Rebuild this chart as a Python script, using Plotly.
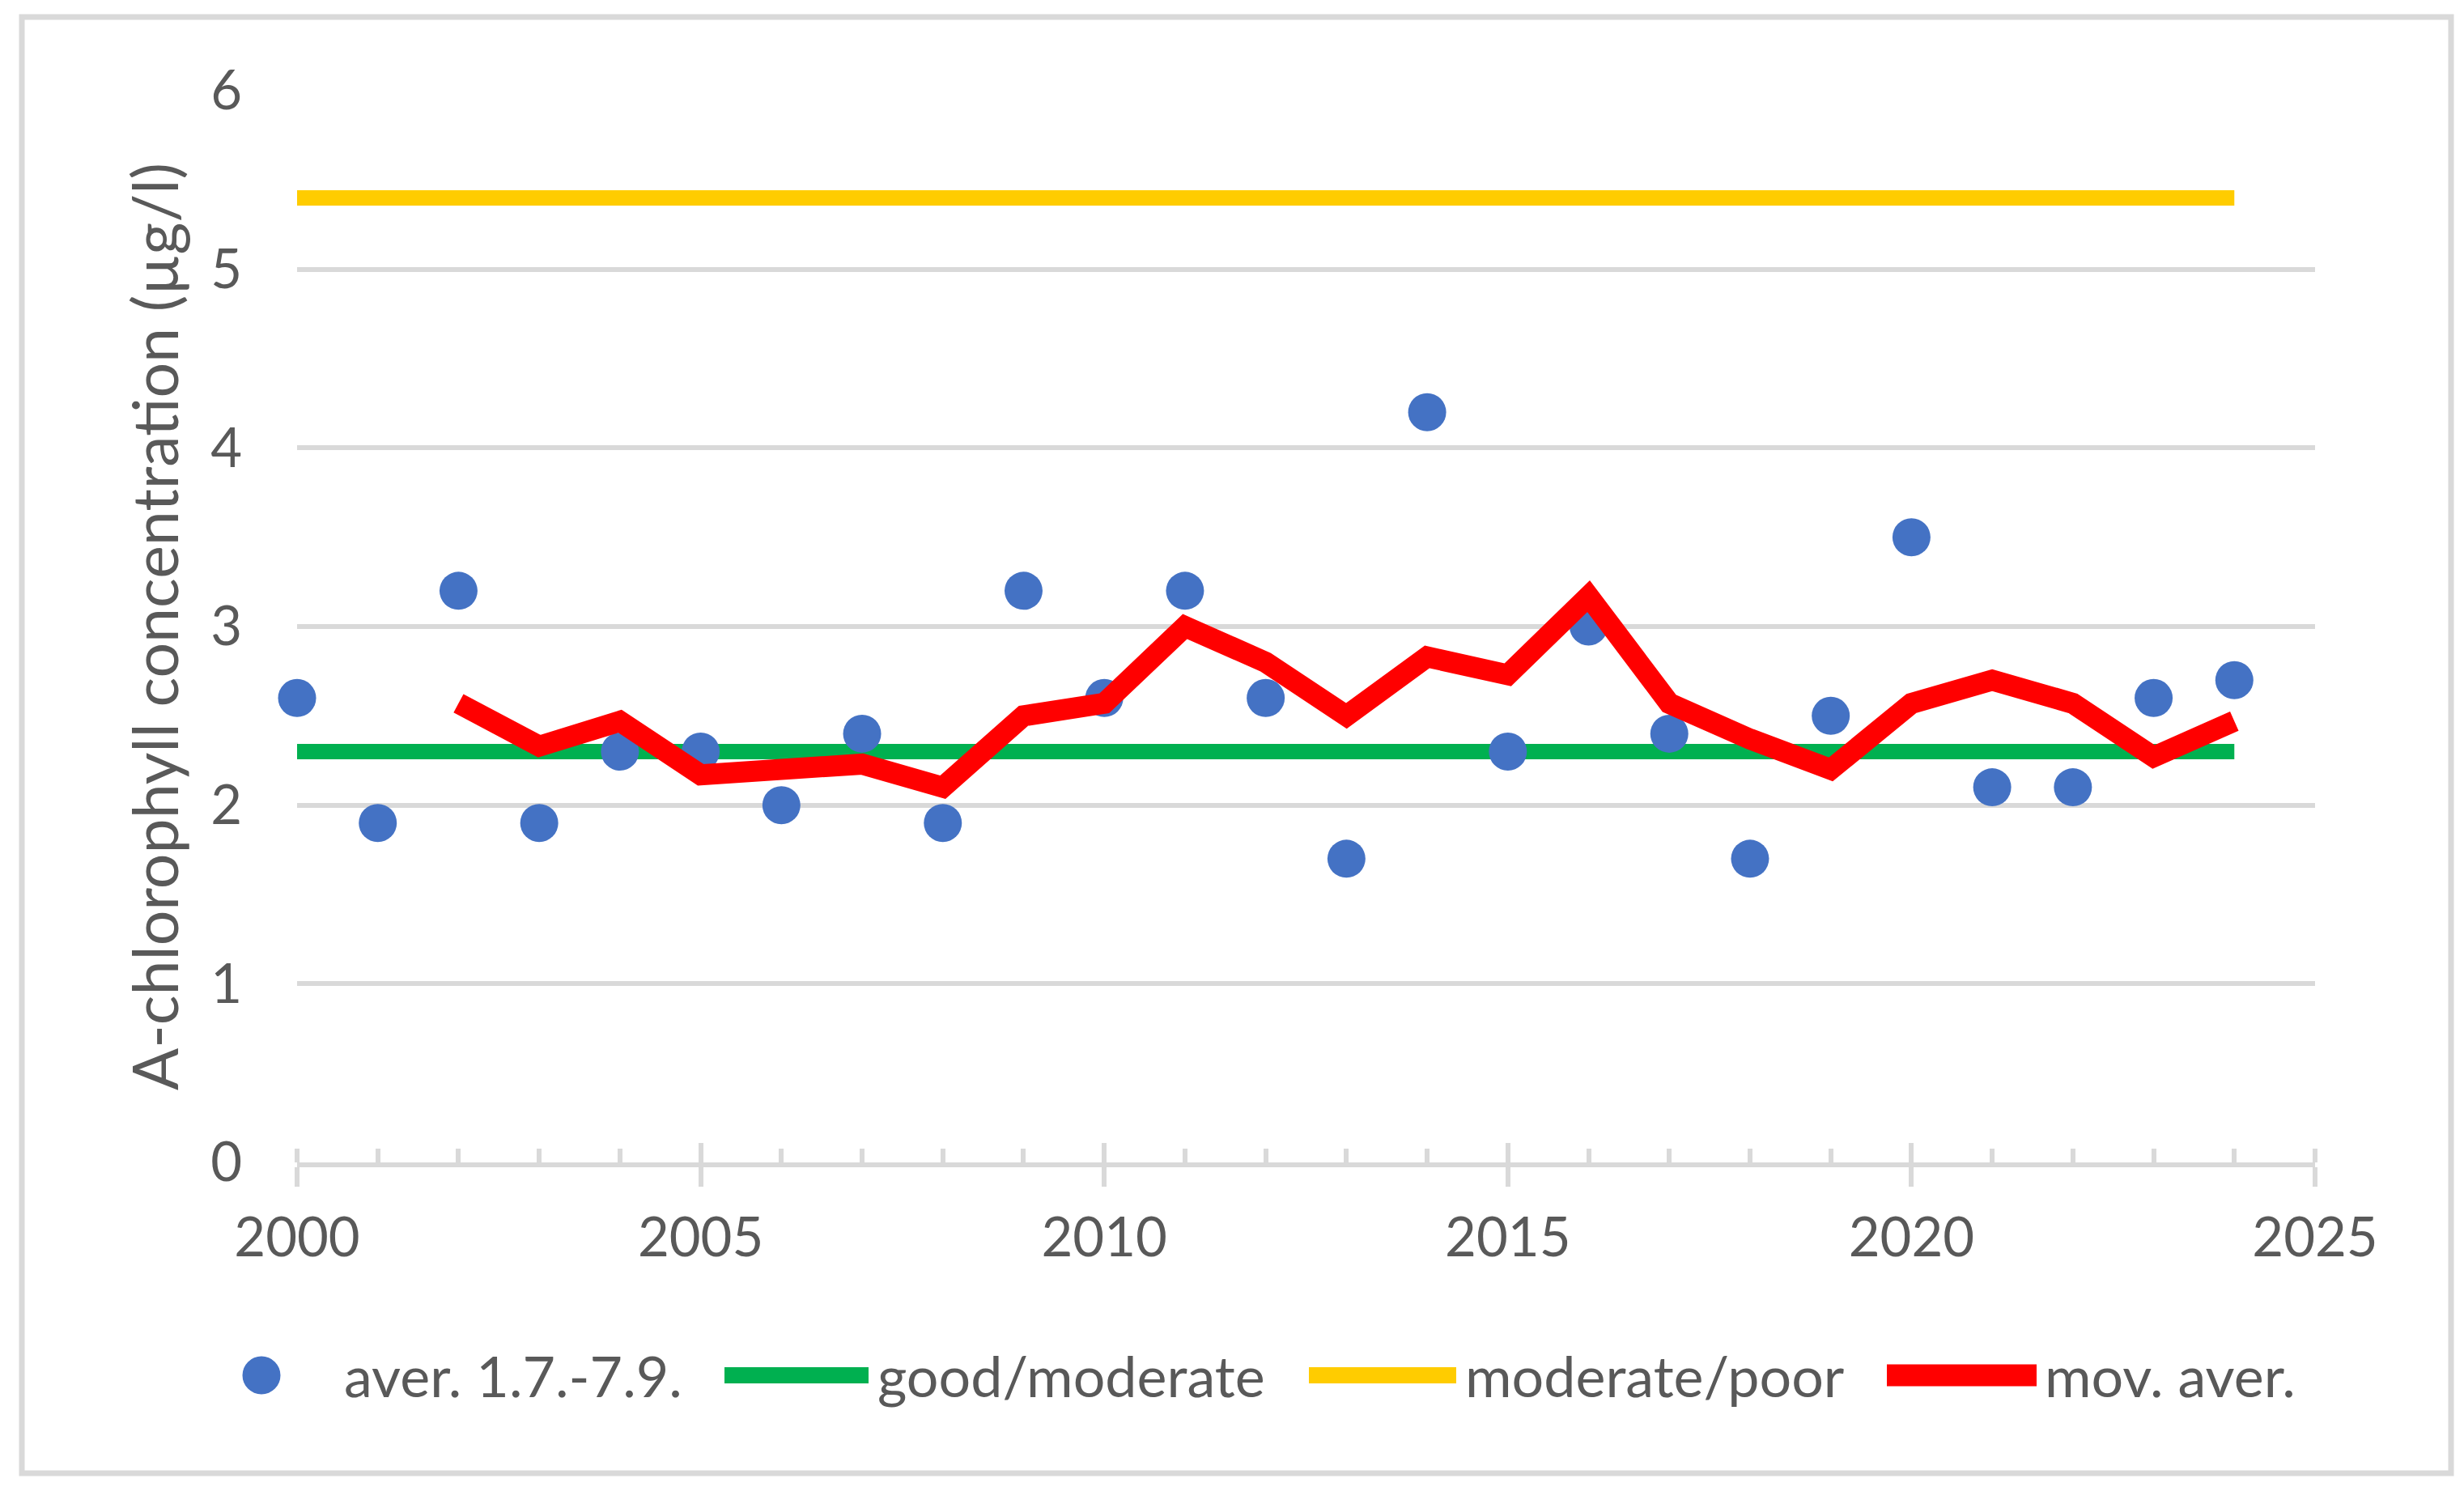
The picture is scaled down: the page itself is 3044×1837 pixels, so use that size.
import plotly.graph_objects as go

years = list(range(2000, 2025))
aver_values = [2.6, 1.9, 3.2, 1.9, 2.3, 2.3, 2.0, 2.4, 1.9, 3.2, 2.6, 3.2, 2.6,
               1.7, 4.2, 2.3, 3.0, 2.4, 1.7, 2.5, 3.5, 2.1, 2.1, 2.6, 2.7]
mov_years = list(range(2002, 2025))
mov_values = [2.57, 2.33, 2.47, 2.17, 2.2, 2.23, 2.1, 2.5, 2.57, 3.0, 2.8, 2.5,
              2.83, 2.73, 3.17, 2.57, 2.37, 2.2, 2.57, 2.7, 2.57, 2.27, 2.47]
limit_years = [2000, 2024]
good_moderate = [2.3, 2.3]
moderate_poor = [5.4, 5.4]
x_ticks = [2000, 2005, 2010, 2015, 2020, 2025]
y_ticks = [0, 1, 2, 3, 4, 5, 6]
legend_names = ["aver. 1.7.-7.9.", "good/moderate", "moderate/poor", "mov. aver."]

FONT = "Lato"
TXT = "#595959"
GRID = "#D9D9D9"
BLUE, GREEN, YELLOW, RED = "#4472C4", "#00B050", "#FFCC00", "#FF0000"

# page has an 8px body margin, so the figure is 8px smaller than the window
W, H = 3036, 1829
L, T = 359, 104
PR, PB = 2852, 1428          # plot right / bottom in px
R, B = W - PR, H - PB
pw, ph = PR - L, PB - T


def px_x(x):
    return (x - L) / pw


def px_y(y):
    return (PB - y) / ph


fig = go.Figure()
fig.add_trace(go.Scatter(x=limit_years, y=good_moderate, mode="lines", name=legend_names[1],
                         line=dict(color=GREEN, width=19), showlegend=False))
fig.add_trace(go.Scatter(x=limit_years, y=moderate_poor, mode="lines", name=legend_names[2],
                         line=dict(color=YELLOW, width=19), showlegend=False))
fig.add_trace(go.Scatter(x=years, y=aver_values, mode="markers", name=legend_names[0],
                         marker=dict(color=BLUE, size=47), cliponaxis=False, showlegend=False))
fig.add_trace(go.Scatter(x=mov_years, y=mov_values, mode="lines", name=legend_names[3],
                         line=dict(color=RED, width=26), cliponaxis=False, showlegend=False))
# invisible trace to activate the overlay axis used for the upper half of major ticks
fig.add_trace(go.Scatter(x=[2000], y=[0], xaxis="x2", mode="markers", marker=dict(opacity=0),
                         showlegend=False, hoverinfo="skip"))

# custom legend (long line keys as in the original)
leg_y = px_y(1691)
shapes = [dict(type="rect", xref="paper", yref="paper",
               x0=px_x(19), x1=px_x(3020), y0=px_y(1812), y1=px_y(13),
               line=dict(color=GRID, width=7), fillcolor="rgba(0,0,0,0)", layer="below"),
          dict(type="circle", xref="paper", yref="paper", xsizemode="pixel", ysizemode="pixel",
               xanchor=px_x(315), yanchor=leg_y, x0=-23.5, x1=23.5, y0=-23.5, y1=23.5,
               fillcolor=BLUE, line=dict(width=0))]
for (x0, x1), col, w in [((887, 1065), GREEN, 20), ((1609, 1791), YELLOW, 20),
                         ((2323, 2508), RED, 27)]:
    shapes.append(dict(type="line", xref="paper", yref="paper", x0=px_x(x0), x1=px_x(x1),
                       y0=leg_y, y1=leg_y, line=dict(color=col, width=w)))
annotations = []
for name, xs in zip(legend_names, [415, 1074, 1800, 2516]):
    annotations.append(dict(text=name, xref="paper", yref="paper", x=px_x(xs), y=leg_y,
                            xanchor="left", yanchor="middle", showarrow=False,
                            font=dict(family=FONT, size=70, color=TXT)))

fig.update_layout(
    width=W, height=H,
    margin=dict(l=L, r=R, t=T, b=B, pad=0),
    paper_bgcolor="white", plot_bgcolor="white",
    font=dict(family=FONT, size=67, color=TXT),
    showlegend=False,
    xaxis=dict(range=[2000, 2025], tickvals=x_ticks, showgrid=False, zeroline=False,
               showline=True, linecolor=GRID, linewidth=6,
               ticks="outside", ticklen=24, tickwidth=6, tickcolor=GRID,
               ticklabelstandoff=6,
               minor=dict(ticks="inside", dtick=1, tick0=2000, ticklen=17, tickwidth=6,
                          tickcolor=GRID, showgrid=False),
               tickfont=dict(family=FONT, size=67, color=TXT)),
    xaxis2=dict(range=[2000, 2025], overlaying="x", anchor="y", side="bottom",
                tickvals=x_ticks, showticklabels=False, showgrid=False, zeroline=False,
                showline=False, ticks="inside", ticklen=24, tickwidth=6, tickcolor=GRID),
    yaxis=dict(range=[0, 6], tickvals=y_ticks, showgrid=True, gridcolor=GRID, gridwidth=6,
               zeroline=False, showline=False, ticks="", ticklabelstandoff=67,
               tickfont=dict(family=FONT, size=67, color=TXT),
               title=dict(text="A-chlorophyll concentration (µg/l)", standoff=14,
                          font=dict(family=FONT, size=77, color=TXT))),
    shapes=shapes,
    annotations=annotations,
)

fig.write_html("out.html")
